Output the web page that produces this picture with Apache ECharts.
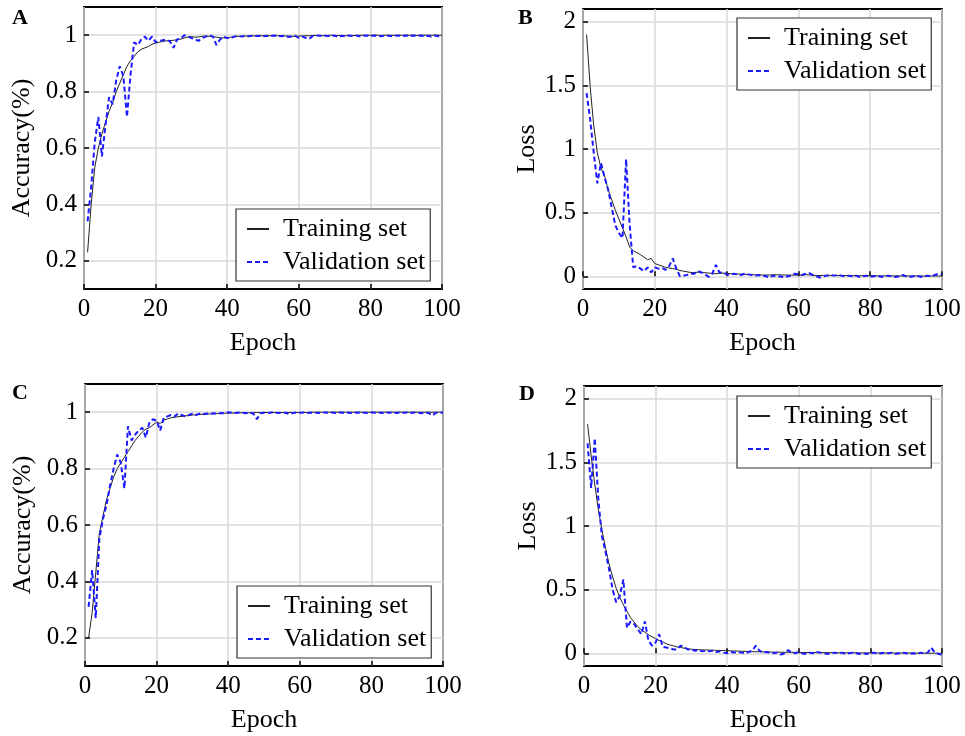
<!DOCTYPE html>
<html>
<head>
<meta charset="utf-8">
<script src="https://cdn.jsdelivr.net/npm/echarts@6/dist/echarts.min.js"></script>
<style>html,body{margin:0;padding:0;background:#fff}#c{width:965px;height:736px}</style>
</head>
<body>
<div id="c"></div>
<script>
// ---- Data (epoch 1..100) ----
const epochs = Array.from({length: 100}, (_, i) => i + 1);

const trainAccA = [
0.23,0.40,0.53,0.60,0.65,0.69,0.73,0.76,0.80,0.83,
0.86,0.89,0.91,0.925,0.94,0.95,0.955,0.96,0.968,0.972,
0.975,0.978,0.98,0.981,0.982,0.984,0.986,0.99,0.994,0.995,
0.993,0.994,0.996,0.997,0.996,0.995,0.993,0.991,0.99,0.991,
0.993,0.995,0.996,0.996,0.997,0.997,0.998,0.997,0.998,0.998,
0.998,0.998,0.999,0.998,0.998,0.997,0.997,0.996,0.996,0.997,
0.997,0.998,0.998,0.999,0.999,0.999,0.998,0.999,1.0,0.999,
0.999,0.999,0.998,0.999,0.999,0.999,1.0,1.0,0.999,1.0,
1.0,1.0,0.999,1.0,1.0,1.0,0.999,1.0,1.0,1.0,
1.0,1.0,0.999,1.0,1.0,1.0,1.0,1.0,1.0,1.0];
const valAccA = [
0.34,0.46,0.62,0.71,0.57,0.68,0.78,0.755,0.84,0.89,
0.855,0.71,0.86,0.975,0.965,0.985,0.995,0.98,0.995,0.975,
0.98,0.982,0.985,0.978,0.955,0.985,0.988,1.0,0.995,0.99,
0.985,0.98,0.99,0.995,1.0,0.995,0.965,0.985,0.995,0.99,
0.99,0.995,0.998,0.995,0.998,0.996,0.998,0.997,0.998,0.996,
0.998,0.997,0.999,0.998,0.996,0.998,0.994,0.995,0.998,0.99,
0.995,0.99,0.988,0.998,0.999,0.998,0.999,0.997,0.998,0.999,
0.993,0.998,0.996,0.999,0.997,0.999,0.996,0.998,0.999,0.997,
0.999,0.998,0.996,0.999,0.998,0.996,0.999,0.998,0.997,0.999,
0.996,0.999,0.997,0.999,0.996,0.998,0.995,0.999,0.996,0.998];

const trainLossB = [
1.90,1.49,1.18,0.97,0.85,0.79,0.68,0.60,0.52,0.45,
0.38,0.31,0.23,0.20,0.185,0.17,0.15,0.13,0.14,0.10,
0.09,0.08,0.07,0.065,0.06,0.055,0.045,0.04,0.035,0.03,
0.03,0.032,0.03,0.028,0.025,0.022,0.02,0.022,0.025,0.022,
0.02,0.02,0.018,0.016,0.015,0.014,0.012,0.012,0.01,0.01,
0.01,0.01,0.012,0.012,0.011,0.01,0.01,0.009,0.009,0.008,
0.01,0.012,0.011,0.008,0.006,0.006,0.007,0.008,0.007,0.006,
0.006,0.005,0.006,0.005,0.005,0.005,0.004,0.005,0.004,0.004,
0.004,0.004,0.003,0.004,0.003,0.003,0.003,0.003,0.003,0.003,
0.003,0.002,0.003,0.002,0.002,0.002,0.002,0.002,0.002,0.002];
const valLossB = [
1.44,1.23,0.97,0.73,0.89,0.78,0.68,0.54,0.40,0.34,
0.30,0.92,0.40,0.07,0.08,0.06,0.04,0.07,0.03,0.07,
0.06,0.065,0.05,0.08,0.14,0.06,0.0,0.005,0.01,0.02,
0.02,0.04,0.03,0.015,-0.005,0.02,0.09,0.03,0.03,0.015,
0.01,0.02,0.015,0.01,0.02,0.015,0.01,0.005,0.01,0.005,
0.0,-0.01,0.005,-0.005,0.0,-0.01,0.0,0.005,0.02,0.015,
0.01,0.02,0.025,0.01,0.0,-0.01,0.0,0.005,0.01,0.005,
0.01,0.005,0.0,0.005,0.0,0.005,-0.005,0.0,0.005,-0.005,
0.0,0.005,-0.005,0.0,0.005,0.0,-0.005,0.0,0.01,0.0,
-0.005,0.0,0.005,-0.005,0.0,0.005,0.0,0.01,0.02,0.015];

const trainAccC = [
0.20,0.29,0.43,0.57,0.63,0.69,0.73,0.77,0.80,0.82,
0.84,0.86,0.88,0.90,0.915,0.93,0.94,0.945,0.955,0.965,
0.96,0.972,0.976,0.98,0.982,0.984,0.985,0.987,0.988,0.99,
0.991,0.992,0.993,0.994,0.994,0.995,0.995,0.996,0.996,0.997,
0.997,0.997,0.998,0.998,0.998,0.998,0.998,0.999,0.999,0.999,
0.999,0.999,0.999,0.999,0.999,0.999,0.999,0.999,0.999,0.999,
0.999,0.999,1.0,1.0,1.0,1.0,1.0,1.0,1.0,1.0,
1.0,1.0,1.0,1.0,1.0,1.0,1.0,1.0,1.0,1.0,
1.0,1.0,1.0,1.0,1.0,1.0,1.0,1.0,1.0,1.0,
1.0,1.0,1.0,1.0,1.0,1.0,1.0,1.0,1.0,1.0];
const valAccC = [
0.31,0.44,0.27,0.55,0.62,0.67,0.74,0.80,0.85,0.82,
0.73,0.95,0.90,0.92,0.935,0.945,0.91,0.965,0.975,0.97,
0.935,0.98,0.985,0.99,0.985,0.995,0.99,0.985,0.99,0.995,
0.99,0.995,0.993,0.995,0.994,0.996,0.995,0.997,0.996,1.0,
0.998,0.997,0.999,0.998,0.996,0.999,0.995,0.975,0.996,0.998,
0.997,0.999,0.998,0.997,0.999,0.998,0.993,0.997,0.999,0.998,
0.999,0.997,0.998,0.999,0.997,0.998,0.999,0.998,0.999,0.997,
0.999,0.998,0.999,0.997,0.999,0.998,0.999,0.998,0.997,0.999,
0.998,0.999,0.997,0.999,0.998,0.999,0.997,0.999,0.998,0.999,
0.997,0.999,0.998,0.996,0.999,0.997,0.988,0.998,0.999,0.998];

const trainLossD = [
1.80,1.55,1.33,1.13,0.97,0.83,0.70,0.60,0.51,0.44,
0.38,0.33,0.28,0.245,0.21,0.185,0.165,0.145,0.13,0.115,
0.10,0.09,0.075,0.065,0.058,0.05,0.045,0.04,0.035,0.032,
0.03,0.028,0.027,0.026,0.025,0.024,0.023,0.022,0.021,0.02,
0.019,0.018,0.017,0.016,0.015,0.014,0.013,0.012,0.012,0.011,
0.01,0.01,0.009,0.009,0.008,0.008,0.008,0.007,0.007,0.007,
0.006,0.006,0.006,0.006,0.005,0.005,0.005,0.005,0.005,0.005,
0.004,0.004,0.004,0.004,0.004,0.004,0.003,0.003,0.003,0.003,
0.003,0.003,0.003,0.002,0.002,0.002,0.002,0.002,0.002,0.002,
0.002,0.002,0.001,0.001,0.001,0.001,0.001,0.001,0.0,0.0];
const valLossD = [
1.65,1.30,1.69,1.21,0.92,0.80,0.66,0.50,0.40,0.45,
0.58,0.20,0.25,0.23,0.19,0.15,0.25,0.10,0.06,0.085,
0.15,0.05,0.045,0.04,0.03,0.03,0.06,0.05,0.03,0.03,
0.02,0.025,0.015,0.02,0.015,0.02,0.01,0.015,0.005,0.0,
0.01,0.005,0.01,0.005,0.0,0.01,0.02,0.06,0.02,0.005,
0.01,0.005,0.0,0.005,-0.01,0.0,0.025,0.005,0.0,0.01,
0.0,-0.005,0.005,0.0,0.01,0.005,0.0,-0.005,0.0,0.005,
0.0,0.005,-0.005,0.0,0.005,0.0,-0.005,0.0,-0.005,0.0,
0.005,-0.005,0.0,0.005,0.0,0.005,-0.005,0.0,0.005,0.0,
-0.005,0.0,-0.005,0.005,0.0,0.005,0.045,0.005,-0.005,-0.01];

const xTicks = [0, 20, 40, 60, 80, 100];
const accTicks = [0.2, 0.4, 0.6, 0.8, 1];
const lossTicks = [0, 0.5, 1, 1.5, 2];
const seriesNames = ['Training set', 'Validation set'];

// ---- Chart ----
const FONT = 'Liberation Serif';
const grids = [
  {left: 84, top: 7, width: 358, height: 282},
  {left: 583, top: 9, width: 359, height: 280},
  {left: 85, top: 384, width: 358, height: 282},
  {left: 584, top: 386, width: 358, height: 280}
].map(g => Object.assign({show: true, borderColor: '#000', borderWidth: 1.8, backgroundColor: 'transparent'}, g));

function xAxis(i) {
  return {
    type: 'value', gridIndex: i, min: 0, max: 100, interval: 20,
    name: 'Epoch', nameLocation: 'middle', nameGap: 41,
    nameTextStyle: {fontFamily: FONT, fontSize: 26, color: '#000'},
    axisLine: {show: false},
    axisTick: {show: true, inside: true, length: 5, lineStyle: {color: '#000', width: 1.5}, customValues: xTicks},
    axisLabel: {fontFamily: FONT, fontSize: 25, color: '#000', margin: 8, customValues: xTicks},
    splitLine: {show: true, lineStyle: {color: '#d8d8d8', width: 1.5}}
  };
}
function yAxis(i, isAcc) {
  const ticks = isAcc ? accTicks : lossTicks;
  return {
    type: 'value', gridIndex: i,
    min: isAcc ? 0.1 : -0.1, max: isAcc ? 1.1 : 2.1,
    name: isAcc ? 'Accuracy(%)' : 'Loss', nameLocation: 'middle', nameGap: isAcc ? 49 : 43,
    nameTextStyle: {fontFamily: FONT, fontSize: 26, color: '#000'},
    axisLine: {show: false},
    axisTick: {show: true, inside: true, length: 5, lineStyle: {color: '#000', width: 1.5}, customValues: ticks},
    axisLabel: {fontFamily: FONT, fontSize: 25, color: '#000', margin: 7, customValues: ticks},
    splitLine: {show: true, lineStyle: {color: '#d8d8d8', width: 1.5}}
  };
}
function pairs(arr) { return epochs.map((e, i) => [e, arr[i]]); }
function trainSeries(i, arr) {
  return {name: seriesNames[0], type: 'line', xAxisIndex: i, yAxisIndex: i, data: pairs(arr),
    symbol: 'none', animation: false, z: 3,
    lineStyle: {color: '#222', width: 1}, itemStyle: {color: '#222'}};
}
function valSeries(i, arr) {
  return {name: seriesNames[1], type: 'line', xAxisIndex: i, yAxisIndex: i, data: pairs(arr),
    symbol: 'none', animation: false, z: 4,
    lineStyle: {color: '#1a1aff', width: 2, type: [5, 3]}, itemStyle: {color: '#1a1aff'}};
}
function legend(left, top) {
  return {
    show: true, orient: 'vertical', left: left, top: top, data: seriesNames,
    itemWidth: 22, itemHeight: 14, itemGap: 7,
    padding: [7, 5, 6, 10],
    borderColor: '#333', borderWidth: 1.2, borderRadius: 0, backgroundColor: '#fff',
    selectedMode: false,
    itemStyle: {opacity: 0, borderWidth: 0, color: 'rgba(0,0,0,0)'},
    textStyle: {fontFamily: FONT, fontSize: 26, color: '#000', padding: [0, 0, 0, 9]}
  };
}
function panelLabel(text, x, y) {
  return {type: 'text', left: x, top: y, style: {text: text, font: 'bold 22px "Liberation Serif"', fill: '#000'}};
}

const option = {
  backgroundColor: '#fff',
  animation: false,
  grid: grids,
  xAxis: [xAxis(0), xAxis(1), xAxis(2), xAxis(3)],
  yAxis: [yAxis(0, true), yAxis(1, false), yAxis(2, true), yAxis(3, false)],
  legend: [legend(236, 209), legend(737, 18), legend(237, 586), legend(737, 396)],
  series: [
    trainSeries(0, trainAccA), valSeries(0, valAccA),
    trainSeries(1, trainLossB), valSeries(1, valLossB),
    trainSeries(2, trainAccC), valSeries(2, valAccC),
    trainSeries(3, trainLossD), valSeries(3, valLossD)
  ],
  graphic: [
    panelLabel('A', 12, 7), panelLabel('B', 518, 7),
    panelLabel('C', 12, 382), panelLabel('D', 519, 383)
  ]
};
const chart = echarts.init(document.getElementById('c'), null, {renderer: 'canvas'});
chart.setOption(option);
</script>
</body>
</html>
